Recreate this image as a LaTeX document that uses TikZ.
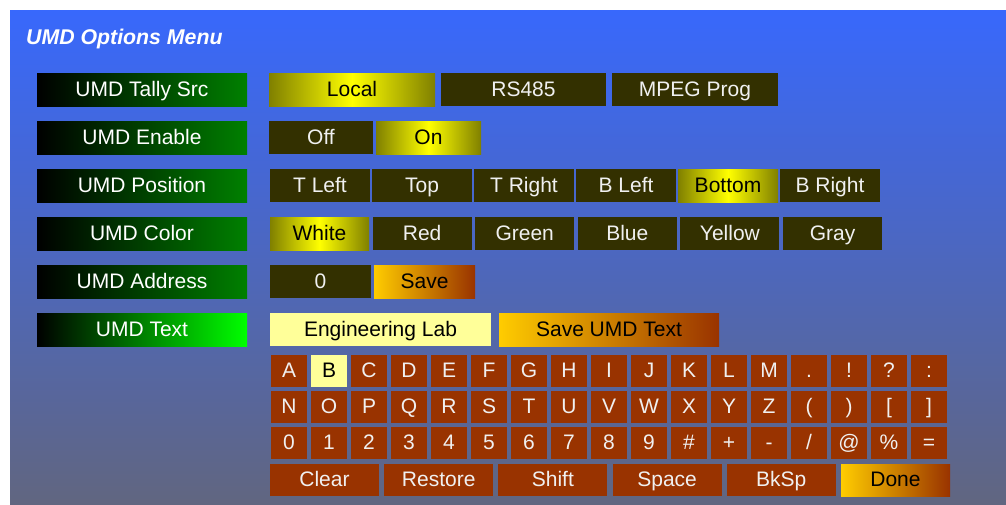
\documentclass[tikz,border=0pt]{standalone}
\usepackage{fontspec}
\setmainfont{Liberation Sans}
\definecolor{bgtop}{RGB}{56,104,252}
\definecolor{bgbot}{RGB}{97,102,128}
\definecolor{btndark}{RGB}{51,48,0}
\definecolor{olivec}{RGB}{128,128,0}
\definecolor{yel}{RGB}{255,255,0}
\definecolor{gold}{RGB}{255,204,0}
\definecolor{rust}{RGB}{153,51,0}
\definecolor{pale}{RGB}{255,255,153}
\definecolor{grn}{RGB}{0,128,0}
\definecolor{lime}{RGB}{0,255,0}
\definecolor{txt}{RGB}{240,240,240}
\tikzset{
  basebox/.style={inner sep=0pt, text height=13.8pt, text depth=0pt,
    font=\fontsize{21}{25}\selectfont, minimum height=33pt},
  lbl/.style={basebox, left color=black, right color=grn, text=white, minimum width=210pt},
  lblsel/.style={lbl, right color=lime},
  offbtn/.style={basebox, fill=btndark, text=txt},
  onbtn/.style={basebox, left color=olivec, right color=olivec, middle color=yel, text=black},
  savebtn/.style={basebox, left color=gold, right color=rust, text=black},
  entry/.style={basebox, fill=pale, text=black},
  keybtn/.style={basebox, fill=rust, text=txt, minimum width=36pt, minimum height=32pt},
  keysel/.style={keybtn, fill=pale, text=black},
}
\begin{document}
\begin{tikzpicture}[x=1pt, y=-1pt]
\useasboundingbox (0,0) rectangle (1006,504);
\shade[top color=bgtop, bottom color=bgbot] (10,10) rectangle (1006,504);
\node[font=\fontsize{21.3}{25}\selectfont\bfseries\itshape, text=white, anchor=base west, inner sep=0pt] (title) at (26,44) {UMD Options Menu};
% labels
\node[lbl] (l1) at (142,89.5) {UMD Tally Src};
\node[lbl] (l2) at (142,137.5) {UMD Enable};
\node[lbl] (l3) at (142,185.5) {UMD Position};
\node[lbl] (l4) at (142,233.5) {UMD Color};
\node[lbl] (l5) at (142,281.5) {UMD Address};
\node[lblsel] (l6) at (142,329.5) {UMD Text};
% row 1
\node[onbtn, minimum width=166pt] (src1) at (352,89.5) {Local};
\node[offbtn, minimum width=165pt] (src2) at (523.5,89.5) {RS485};
\node[offbtn, minimum width=166pt] (src3) at (695,89.5) {MPEG Prog};
% row 2
\node[offbtn, minimum width=104pt] (en1) at (321,137.5) {Off};
\node[onbtn, minimum width=105pt] (en2) at (428.5,137.5) {On};
% row 3
\foreach \t/\s [count=\i from 0] in {T Left/offbtn, Top/offbtn, T Right/offbtn, B Left/offbtn, Bottom/onbtn, B Right/offbtn}
  \node[\s, minimum width=100pt] (pos\i) at (320+102*\i,185.5) {\t};
% row 4
\foreach \t/\s [count=\i from 0] in {White/onbtn, Red/offbtn, Green/offbtn, Blue/offbtn, Yellow/offbtn, Gray/offbtn}
  \node[\s, minimum width=99pt] (col\i) at (319.5+102.6*\i,233.5) {\t};
% row 5
\node[offbtn, minimum width=101pt] (adr) at (320.5,281.5) {0};
\node[savebtn, minimum width=101pt] (adrsave) at (424.5,281.5) {Save};
% row 6
\node[entry, minimum width=221pt] (txtentry) at (380.5,329.5) {Engineering Lab};
\node[savebtn, minimum width=220pt] (txtsave) at (609,329.5) {Save UMD Text};
% keyboard
\foreach \t/\s [count=\i from 0] in {A/keybtn, B/keysel, C/keybtn, D/keybtn, E/keybtn, F/keybtn, G/keybtn, H/keybtn, I/keybtn, J/keybtn, K/keybtn, L/keybtn, M/keybtn, ./keybtn, !/keybtn, ?/keybtn, :/keybtn}
  \node[\s] (ka\i) at (289+40*\i,371) {\t};
\foreach \t [count=\i from 0] in {N,O,P,Q,R,S,T,U,V,W,X,Y,Z,{(},{)},{[},{]}}
  \node[keybtn] (kb\i) at (289+40*\i,407) {\t};
\foreach \t [count=\i from 0] in {0,1,2,3,4,5,6,7,8,9,{\#},{+},{-},{/},{@},{\%},{=}}
  \node[keybtn] (kc\i) at (289+40*\i,443) {\t};
\foreach \t/\s [count=\i from 0] in {Clear/keybtn, Restore/keybtn, Shift/keybtn, Space/keybtn, BkSp/keybtn, Done/savebtn}
  \node[\s, minimum width=109pt, minimum height=32pt] (kd\i) at (324.5+114.2*\i,480) {\t};
\end{tikzpicture}
\end{document}
